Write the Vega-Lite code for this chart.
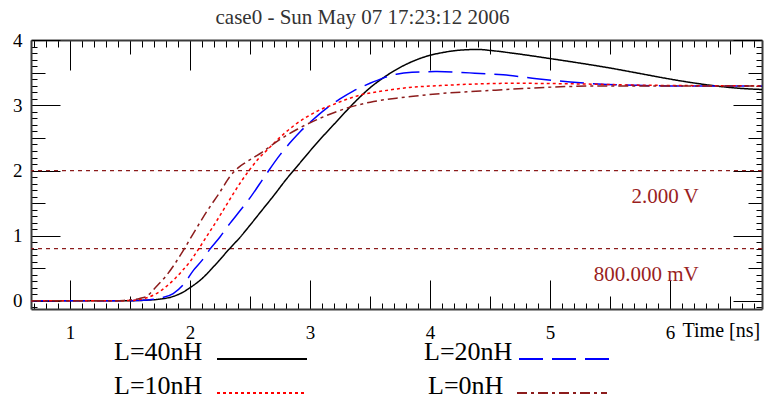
{
  "$schema": "https://vega.github.io/schema/vega-lite/v6.json",
  "width": 731,
  "height": 269,
  "autosize": {"type": "none"},
  "padding": {"left": 31, "top": 40, "right": 3, "bottom": 85},
  "background": "white",
  "config": {"view": {"stroke": null}},
  "title": {"text": "case0 - Sun May 07 17:23:12 2006", "font": "Liberation Serif", "fontSize": 21, "fontWeight": "normal", "color": "#333333", "anchor": "middle", "frame": "group", "dx": -34, "offset": -14, "baseline": "alphabetic"},
  "datasets": {
    "curves": [
      {"s":"L=40nH","t":0.675,"v":0},{"s":"L=40nH","t":1.4,"v":0},{"s":"L=40nH","t":1.55,"v":0.002},{"s":"L=40nH","t":1.65,"v":0.01},{"s":"L=40nH","t":1.75,"v":0.025},{"s":"L=40nH","t":1.85,"v":0.06},{"s":"L=40nH","t":1.93,"v":0.12},{"s":"L=40nH","t":2.0,"v":0.2},{"s":"L=40nH","t":2.1,"v":0.34},{"s":"L=40nH","t":2.2,"v":0.53},{"s":"L=40nH","t":2.33,"v":0.8},{"s":"L=40nH","t":2.42,"v":0.98},{"s":"L=40nH","t":2.5,"v":1.16},{"s":"L=40nH","t":2.6,"v":1.39},{"s":"L=40nH","t":2.7,"v":1.62},{"s":"L=40nH","t":2.8,"v":1.86},{"s":"L=40nH","t":2.9,"v":2.08},{"s":"L=40nH","t":3.0,"v":2.3},{"s":"L=40nH","t":3.1,"v":2.51},{"s":"L=40nH","t":3.2,"v":2.71},{"s":"L=40nH","t":3.3,"v":2.91},{"s":"L=40nH","t":3.4,"v":3.1},{"s":"L=40nH","t":3.5,"v":3.27},{"s":"L=40nH","t":3.6,"v":3.41},{"s":"L=40nH","t":3.7,"v":3.53},{"s":"L=40nH","t":3.8,"v":3.63},{"s":"L=40nH","t":3.9,"v":3.71},{"s":"L=40nH","t":4.0,"v":3.77},{"s":"L=40nH","t":4.1,"v":3.81},{"s":"L=40nH","t":4.2,"v":3.84},{"s":"L=40nH","t":4.3,"v":3.855},{"s":"L=40nH","t":4.4,"v":3.86},{"s":"L=40nH","t":4.5,"v":3.845},{"s":"L=40nH","t":4.7,"v":3.8},{"s":"L=40nH","t":5.0,"v":3.72},{"s":"L=40nH","t":5.25,"v":3.65},{"s":"L=40nH","t":5.5,"v":3.575},{"s":"L=40nH","t":5.75,"v":3.49},{"s":"L=40nH","t":6.0,"v":3.405},{"s":"L=40nH","t":6.2,"v":3.345},{"s":"L=40nH","t":6.4,"v":3.295},{"s":"L=40nH","t":6.6,"v":3.26},{"s":"L=40nH","t":6.767,"v":3.245},
      {"s":"L=20nH","t":0.675,"v":0},{"s":"L=20nH","t":1.4,"v":0},{"s":"L=20nH","t":1.55,"v":0.003},{"s":"L=20nH","t":1.65,"v":0.012},{"s":"L=20nH","t":1.75,"v":0.04},{"s":"L=20nH","t":1.86,"v":0.11},{"s":"L=20nH","t":1.95,"v":0.26},{"s":"L=20nH","t":2.03,"v":0.47},{"s":"L=20nH","t":2.1,"v":0.62},{"s":"L=20nH","t":2.17,"v":0.8},{"s":"L=20nH","t":2.25,"v":0.98},{"s":"L=20nH","t":2.33,"v":1.18},{"s":"L=20nH","t":2.42,"v":1.39},{"s":"L=20nH","t":2.5,"v":1.58},{"s":"L=20nH","t":2.63,"v":1.93},{"s":"L=20nH","t":2.75,"v":2.24},{"s":"L=20nH","t":2.85,"v":2.46},{"s":"L=20nH","t":2.92,"v":2.6},{"s":"L=20nH","t":3.0,"v":2.74},{"s":"L=20nH","t":3.14,"v":2.96},{"s":"L=20nH","t":3.25,"v":3.1},{"s":"L=20nH","t":3.36,"v":3.22},{"s":"L=20nH","t":3.5,"v":3.34},{"s":"L=20nH","t":3.61,"v":3.42},{"s":"L=20nH","t":3.72,"v":3.48},{"s":"L=20nH","t":3.85,"v":3.51},{"s":"L=20nH","t":4.06,"v":3.52},{"s":"L=20nH","t":4.33,"v":3.5},{"s":"L=20nH","t":4.61,"v":3.47},{"s":"L=20nH","t":4.89,"v":3.41},{"s":"L=20nH","t":5.17,"v":3.36},{"s":"L=20nH","t":5.4,"v":3.33},{"s":"L=20nH","t":5.7,"v":3.31},{"s":"L=20nH","t":6.0,"v":3.3},{"s":"L=20nH","t":6.767,"v":3.3},
      {"s":"L=10nH","t":0.675,"v":0},{"s":"L=10nH","t":1.4,"v":0},{"s":"L=10nH","t":1.5,"v":0.003},{"s":"L=10nH","t":1.57,"v":0.015},{"s":"L=10nH","t":1.64,"v":0.045},{"s":"L=10nH","t":1.72,"v":0.11},{"s":"L=10nH","t":1.81,"v":0.23},{"s":"L=10nH","t":1.88,"v":0.35},{"s":"L=10nH","t":1.94,"v":0.47},{"s":"L=10nH","t":2.0,"v":0.6},{"s":"L=10nH","t":2.07,"v":0.79},{"s":"L=10nH","t":2.15,"v":1.02},{"s":"L=10nH","t":2.22,"v":1.22},{"s":"L=10nH","t":2.3,"v":1.46},{"s":"L=10nH","t":2.36,"v":1.64},{"s":"L=10nH","t":2.43,"v":1.84},{"s":"L=10nH","t":2.5,"v":2.02},{"s":"L=10nH","t":2.57,"v":2.18},{"s":"L=10nH","t":2.64,"v":2.31},{"s":"L=10nH","t":2.78,"v":2.56},{"s":"L=10nH","t":2.88,"v":2.71},{"s":"L=10nH","t":2.97,"v":2.82},{"s":"L=10nH","t":3.08,"v":2.93},{"s":"L=10nH","t":3.19,"v":3.01},{"s":"L=10nH","t":3.3,"v":3.09},{"s":"L=10nH","t":3.42,"v":3.16},{"s":"L=10nH","t":3.6,"v":3.22},{"s":"L=10nH","t":3.8,"v":3.27},{"s":"L=10nH","t":4.14,"v":3.31},{"s":"L=10nH","t":4.69,"v":3.34},{"s":"L=10nH","t":5.25,"v":3.33},{"s":"L=10nH","t":5.8,"v":3.31},{"s":"L=10nH","t":6.767,"v":3.3},
      {"s":"L=0nH","t":0.675,"v":0},{"s":"L=0nH","t":1.35,"v":0},{"s":"L=0nH","t":1.45,"v":0.005},{"s":"L=0nH","t":1.52,"v":0.015},{"s":"L=0nH","t":1.58,"v":0.035},{"s":"L=0nH","t":1.64,"v":0.07},{"s":"L=0nH","t":1.72,"v":0.22},{"s":"L=0nH","t":1.8,"v":0.38},{"s":"L=0nH","t":1.86,"v":0.53},{"s":"L=0nH","t":1.95,"v":0.79},{"s":"L=0nH","t":2.03,"v":1.04},{"s":"L=0nH","t":2.14,"v":1.37},{"s":"L=0nH","t":2.25,"v":1.67},{"s":"L=0nH","t":2.33,"v":1.9},{"s":"L=0nH","t":2.4,"v":2.04},{"s":"L=0nH","t":2.47,"v":2.13},{"s":"L=0nH","t":2.53,"v":2.2},{"s":"L=0nH","t":2.6,"v":2.28},{"s":"L=0nH","t":2.72,"v":2.44},{"s":"L=0nH","t":2.89,"v":2.63},{"s":"L=0nH","t":3.08,"v":2.8},{"s":"L=0nH","t":3.31,"v":2.96},{"s":"L=0nH","t":3.53,"v":3.06},{"s":"L=0nH","t":3.72,"v":3.11},{"s":"L=0nH","t":3.86,"v":3.14},{"s":"L=0nH","t":4.14,"v":3.19},{"s":"L=0nH","t":4.42,"v":3.22},{"s":"L=0nH","t":4.78,"v":3.26},{"s":"L=0nH","t":5.14,"v":3.29},{"s":"L=0nH","t":5.5,"v":3.3},{"s":"L=0nH","t":6.767,"v":3.3}
    ],
    "levels": [
      {"v": 2, "tx": 6.24, "label": "2.000 V"},
      {"v": 0.8, "tx": 6.24, "label": "800.000 mV"}
    ]
  },
  "resolve": {"axis": {"x": "independent", "y": "independent"}},
  "layer": [
    {
      "data": {"name": "levels"},
      "mark": {"type": "rule", "color": "#8c1c1c", "strokeWidth": 1.2, "strokeDash": [4, 4]},
      "encoding": {
        "y": {"field": "v", "type": "quantitative", "scale": {"domain": [-0.127, 4.005], "nice": false, "zero": false}, "axis": null}
      }
    },
    {
      "data": {"name": "curves"},
      "mark": {"type": "line", "interpolate": "monotone", "strokeWidth": 1.5},
      "encoding": {
        "x": {"field": "t", "type": "quantitative", "scale": {"domain": [0.675, 6.767], "nice": false, "zero": false},
          "axis": {"orient": "bottom", "grid": false,
            "values": [0.7,0.8,0.9,1.0,1.1,1.2,1.3,1.4,1.5,1.6,1.7,1.8,1.9,2.0,2.1,2.2,2.3,2.4,2.5,2.6,2.7,2.8,2.9,3.0,3.1,3.2,3.3,3.4,3.5,3.6,3.7,3.8,3.9,4.0,4.1,4.2,4.3,4.4,4.5,4.6,4.7,4.8,4.9,5.0,5.1,5.2,5.3,5.4,5.5,5.6,5.7,5.8,5.9,6.0,6.1,6.2,6.3,6.4,6.5,6.6,6.7],
            "tickSize": {"condition": [{"test": "abs(datum.value - round(datum.value)) < 0.01", "value": -29}, {"test": "abs(datum.value * 2 - round(datum.value * 2)) < 0.01", "value": -13}], "value": -6},
            "tickColor": "#000000", "tickWidth": 1,
            "domainColor": "#3a3a3a", "domainWidth": 2,
            "labelExpr": "abs(datum.value - round(datum.value)) < 0.01 ? format(datum.value, 'd') : ''",
            "labelOverlap": false, "labelFlush": false, "labelPadding": 43, "labelBaseline": "top",
            "labelFont": "Liberation Serif", "labelFontSize": 19, "labelColor": "#000000",
            "title": "Time [ns]", "titleX": 651, "titleY": 27, "titleAlign": "left", "titleAnchor": "start", "titleBaseline": "alphabetic",
            "titleFont": "Liberation Serif", "titleFontSize": 20, "titleFontWeight": "normal", "titleColor": "#000000"}
        },
        "y": {"field": "v", "type": "quantitative", "scale": {"domain": [-0.127, 4.005], "nice": false, "zero": false},
          "axis": {"orient": "left", "grid": false,
            "values": [-0.1,0,0.1,0.2,0.3,0.4,0.5,0.6,0.7,0.8,0.9,1.0,1.1,1.2,1.3,1.4,1.5,1.6,1.7,1.8,1.9,2.0,2.1,2.2,2.3,2.4,2.5,2.6,2.7,2.8,2.9,3.0,3.1,3.2,3.3,3.4,3.5,3.6,3.7,3.8,3.9,4.0],
            "tickSize": {"condition": [{"test": "abs(datum.value - round(datum.value)) < 0.01", "value": -29}, {"test": "abs(datum.value * 2 - round(datum.value * 2)) < 0.01", "value": -14}], "value": -6},
            "tickColor": "#000000", "tickWidth": 1,
            "domainColor": "#3a3a3a", "domainWidth": 2,
            "labelExpr": "abs(datum.value - round(datum.value)) < 0.01 ? format(datum.value, 'd') : ''",
            "labelOverlap": false, "labelFlush": false, "labelPadding": 38, "labelAlign": "right", "labelBaseline": "middle",
            "labelFont": "Liberation Serif", "labelFontSize": 19, "labelColor": "#000000",
            "title": null}
        },
        "color": {"field": "s", "type": "nominal",
          "scale": {"domain": ["L=40nH", "L=10nH", "L=20nH", "L=0nH"], "range": ["#000000", "#ff0000", "#0000ff", "#8c1c1c"]},
          "legend": {"title": null, "orient": "none", "legendX": 83, "legendY": 300, "columns": 2, "columnPadding": 113, "rowPadding": 8, "padding": 0,
            "symbolType": "stroke", "symbolSize": 8100, "symbolStrokeWidth": 2, "labelFont": "Liberation Serif", "labelFontSize": 26, "labelColor": "#000000", "labelLimit": 200, "labelOffset": 0, "symbolOffset": 0,
            "encoding": {
              "labels": {"x": {"condition": {"test": "datum.label == 'L=0nH'", "value": 4}, "value": 0}, "y": {"value": 12}},
              "symbols": {"x": {"condition": [{"test": "datum.label == 'L=20nH'", "value": 140}, {"test": "datum.label == 'L=0nH'", "value": 138}], "value": 148}, "y": {"value": 19}}
            }}
        },
        "strokeDash": {"field": "s", "type": "nominal",
          "scale": {"domain": ["L=40nH", "L=10nH", "L=20nH", "L=0nH"], "range": [[1, 0], [3, 3], [24, 9], [10, 4, 3, 4]]},
          "legend": {"title": null, "orient": "none", "legendX": 83, "legendY": 300, "columns": 2, "columnPadding": 113, "rowPadding": 8, "padding": 0,
            "symbolType": "stroke", "symbolSize": 8100, "symbolStrokeWidth": 2, "labelFont": "Liberation Serif", "labelFontSize": 26, "labelColor": "#000000", "labelLimit": 200, "labelOffset": 0, "symbolOffset": 0,
            "encoding": {
              "labels": {"x": {"condition": {"test": "datum.label == 'L=0nH'", "value": 4}, "value": 0}, "y": {"value": 12}},
              "symbols": {"x": {"condition": [{"test": "datum.label == 'L=20nH'", "value": 140}, {"test": "datum.label == 'L=0nH'", "value": 138}], "value": 148}, "y": {"value": 19}}
            }}
        }
      }
    },
    {
      "data": {"name": "levels"},
      "mark": {"type": "text", "align": "right", "baseline": "alphabetic", "dy": 32, "font": "Liberation Serif", "fontSize": 21, "color": "#9a1e1e"},
      "encoding": {
        "x": {"field": "tx", "type": "quantitative", "scale": {"domain": [0.675, 6.767], "nice": false, "zero": false},
          "axis": {"orient": "top", "grid": false, "labels": false, "title": null,
            "values": [0.7,0.8,0.9,1.0,1.1,1.2,1.3,1.4,1.5,1.6,1.7,1.8,1.9,2.0,2.1,2.2,2.3,2.4,2.5,2.6,2.7,2.8,2.9,3.0,3.1,3.2,3.3,3.4,3.5,3.6,3.7,3.8,3.9,4.0,4.1,4.2,4.3,4.4,4.5,4.6,4.7,4.8,4.9,5.0,5.1,5.2,5.3,5.4,5.5,5.6,5.7,5.8,5.9,6.0,6.1,6.2,6.3,6.4,6.5,6.6,6.7],
            "tickSize": {"condition": [{"test": "abs(datum.value - round(datum.value)) < 0.01", "value": -30}, {"test": "abs(datum.value * 2 - round(datum.value * 2)) < 0.01", "value": -14}], "value": -7},
            "tickColor": "#000000", "tickWidth": 1, "domainColor": "#3a3a3a", "domainWidth": 2}
        },
        "y": {"field": "v", "type": "quantitative", "scale": {"domain": [-0.127, 4.005], "nice": false, "zero": false},
          "axis": {"orient": "right", "grid": false, "labels": false, "title": null,
            "values": [-0.1,0,0.1,0.2,0.3,0.4,0.5,0.6,0.7,0.8,0.9,1.0,1.1,1.2,1.3,1.4,1.5,1.6,1.7,1.8,1.9,2.0,2.1,2.2,2.3,2.4,2.5,2.6,2.7,2.8,2.9,3.0,3.1,3.2,3.3,3.4,3.5,3.6,3.7,3.8,3.9,4.0],
            "tickSize": {"condition": [{"test": "abs(datum.value - round(datum.value)) < 0.01", "value": -29}, {"test": "abs(datum.value * 2 - round(datum.value * 2)) < 0.01", "value": -14}], "value": -6},
            "tickColor": "#000000", "tickWidth": 1, "domainColor": "#3a3a3a", "domainWidth": 2}
        },
        "text": {"field": "label", "type": "nominal"}
      }
    }
  ]
}
